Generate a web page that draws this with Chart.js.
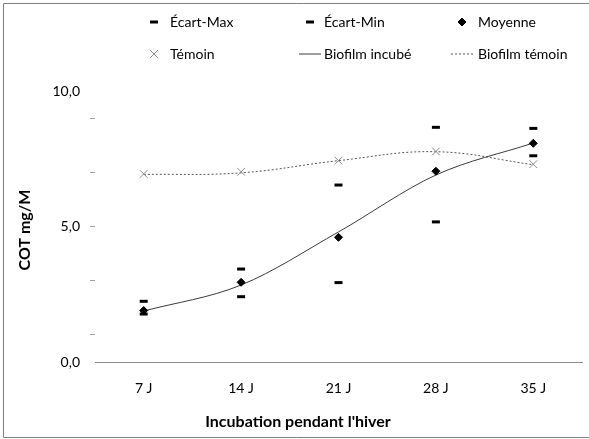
<!DOCTYPE html>
<html><head><meta charset="utf-8">
<script src="https://cdn.jsdelivr.net/npm/chart.js@4/dist/chart.umd.min.js"></script>
<style>html,body{margin:0;padding:0;background:#fff}#wrap{width:589px;height:439px;position:relative}</style>
</head><body><div id="wrap"><canvas id="c"></canvas></div>
<script>
// ---- data ----
const categories = ['7 J', '14 J', '21 J', '28 J', '35 J'];
const ecartMax = [2.24, 3.43, 6.53, 8.66, 8.62];
const ecartMin = [1.77, 2.41, 2.93, 5.17, 7.61];
const moyenne = [1.9, 2.94, 4.6, 7.04, 8.07];
const temoin = [6.94, 7.02, 7.43, 7.77, 7.3];
const biofilmIncube = [1.88, 2.84, 4.8, 6.9, 8.08];   // trend line values
const biofilmTemoin = [6.92, 6.98, 7.43, 7.76, 7.28]; // trend line values
const yLabelValues = [0, 5, 10];
const yTickMarkValues = [1, 3, 5, 7, 9];
const xTitle = "Incubation pendant l'hiver";
const yTitle = 'COT mg/M';

const FONT = 'Lato';
Chart.defaults.font.family = FONT;
Chart.defaults.color = '#000';

const datasets = [
  {label: 'Écart-Max', data: ecartMax, showLine: false, pointStyle: 'line', pointRadius: 4, pointBorderWidth: 3, borderColor: '#000', backgroundColor: '#000'},
  {label: 'Écart-Min', data: ecartMin, showLine: false, pointStyle: 'line', pointRadius: 4, pointBorderWidth: 3, borderColor: '#000', backgroundColor: '#000'},
  {label: 'Moyenne', data: moyenne, showLine: false, pointStyle: 'rectRot', pointRadius: 4, pointBorderWidth: 1, borderColor: '#000', backgroundColor: '#000'},
  {label: 'Témoin', data: temoin, showLine: false, pointStyle: 'crossRot', pointRadius: 5.5, pointBorderWidth: 1, borderColor: '#8a8a8a', backgroundColor: '#8a8a8a'},
  {label: 'Biofilm incubé', data: biofilmIncube, pointRadius: 0, borderWidth: 1, borderColor: '#3a3a3a', cubicInterpolationMode: 'monotone'},
  {label: 'Biofilm témoin', data: biofilmTemoin, pointRadius: 0, borderWidth: 1, borderColor: '#555', borderDash: [2, 2], tension: 0.4}
];

const legendPos = [
  {sx: 154, tx: 170, y: 22}, {sx: 310, tx: 324, y: 22}, {sx: 462, tx: 478, y: 22},
  {sx: 154, tx: 170, y: 54}, {sx: 310, tx: 324, y: 54}, {sx: 462, tx: 478, y: 54}
];

const decor = {
  id: 'decor',
  afterDraw(chart) {
    const ctx = chart.ctx;
    ctx.save();
    // outer frame
    ctx.strokeStyle = '#808080'; ctx.lineWidth = 1;
    ctx.beginPath();
    ctx.moveTo(589, 3.5); ctx.lineTo(3.5, 3.5); ctx.lineTo(3.5, 437.5); ctx.lineTo(589, 437.5);
    ctx.stroke();
    // legend
    ctx.font = '14px ' + FONT; ctx.textBaseline = 'middle'; ctx.textAlign = 'left'; ctx.fillStyle = '#000';
    chart.data.datasets.forEach((ds, i) => {
      const p = legendPos[i];
      ctx.strokeStyle = ds.borderColor; ctx.fillStyle = ds.borderColor;
      if (ds.showLine === false) {
        const r = ds.pointRadius;
        ctx.lineWidth = ds.pointBorderWidth;
        ctx.beginPath();
        if (ds.pointStyle === 'line') { ctx.moveTo(p.sx - r, p.y); ctx.lineTo(p.sx + r, p.y); ctx.stroke(); }
        else if (ds.pointStyle === 'rectRot') { ctx.moveTo(p.sx - r, p.y); ctx.lineTo(p.sx, p.y - r); ctx.lineTo(p.sx + r, p.y); ctx.lineTo(p.sx, p.y + r); ctx.closePath(); ctx.fill(); ctx.stroke(); }
        else if (ds.pointStyle === 'crossRot') { const o = r * Math.SQRT1_2; ctx.moveTo(p.sx - o, p.y - o); ctx.lineTo(p.sx + o, p.y + o); ctx.moveTo(p.sx + o, p.y - o); ctx.lineTo(p.sx - o, p.y + o); ctx.stroke(); }
      } else {
        ctx.lineWidth = ds.borderWidth; ctx.setLineDash(ds.borderDash || []);
        ctx.beginPath(); ctx.moveTo(p.sx - 11, p.y); ctx.lineTo(p.sx + 11, p.y); ctx.stroke(); ctx.setLineDash([]);
      }
      ctx.fillStyle = '#000';
      ctx.fillText(ds.label, p.tx, p.y);
    });
    // axis titles
    ctx.font = 'bold 16px ' + FONT; ctx.textAlign = 'center';
    ctx.fillText(xTitle, 298, 422);
    ctx.translate(25, 230); ctx.rotate(-Math.PI / 2);
    ctx.fillText(yTitle, 0, 0);
    ctx.restore();
  }
};

new Chart(document.getElementById('c'), {
  type: 'line',
  data: {labels: categories, datasets},
  plugins: [decor],
  options: {
    responsive: true, maintainAspectRatio: false, animation: false,
    layout: {padding: {top: 91, right: 0, bottom: 0, left: 0}},
    plugins: {legend: {display: false}, tooltip: {enabled: false}},
    scales: {
      x: {
        offset: true,
        grid: {display: false, drawTicks: false},
        border: {display: true, color: '#8c8c8c', width: 1},
        ticks: {padding: 18, font: {size: 14}, color: '#000'},
        afterFit: s => { s.height = 77; }
      },
      y: {
        min: 0, max: 10,
        grid: {drawOnChartArea: false, drawTicks: true, tickLength: 5,
          tickColor: c => yTickMarkValues.includes(c.tick.value) ? '#a0a0a0' : 'rgba(0,0,0,0)'},
        border: {display: false},
        ticks: {stepSize: 1, autoSkip: false, padding: 10, font: {size: 14}, color: '#000',
          callback: v => yLabelValues.includes(v) ? v.toFixed(1).replace('.', ',') : ''},
        afterFit: s => { s.width = 95; }
      }
    }
  }
});
</script></body></html>
